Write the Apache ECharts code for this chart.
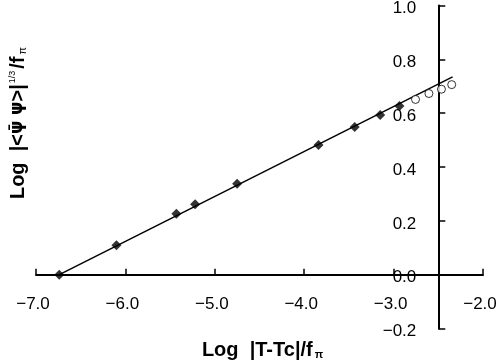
<!DOCTYPE html>
<html>
<head>
<meta charset="utf-8">
<script src="https://cdn.jsdelivr.net/npm/echarts@6/dist/echarts.min.js"></script>
<style>
  html, body { margin: 0; padding: 0; background: #fff; }
  #chart { width: 499px; height: 361px; }
</style>
</head>
<body>
<div id="chart"></div>
<script>
// lattice points used in the fit (filled diamonds)
const fitX = [-6.74, -6.10, -5.43, -5.22, -4.75, -3.84, -3.435, -3.15, -2.935];
const fitY = [0.0, 0.109, 0.226, 0.262, 0.338, 0.482, 0.549, 0.593, 0.627];
// points outside the scaling region (open circles)
const outX = [-2.755, -2.605, -2.465, -2.35];
const outY = [0.651, 0.673, 0.689, 0.706];
// fitted straight line, end points
const lineX = [-6.75, -2.34];
const lineY = [-0.002, 0.735];

const xTicks = { min: -7, max: -2, interval: 1 };
const yTicks = { min: -0.2, max: 1.0, interval: 0.2 };
const yCross = -2.5; // x value where the y axis crosses
const xCross = 0.0;  // y value where the x axis crosses

const font = '"Liberation Sans", Arial, sans-serif';
const titleFont = '"Liberation Sans Narrow", "Liberation Sans", sans-serif';

const zip = (xs, ys) => xs.map((x, i) => [x, ys[i]]);
const fmt = (v) => (v < 0 ? '\u2212' + Math.abs(v).toFixed(1) : v.toFixed(1));

const chart = echarts.init(document.getElementById('chart'));

const W = 499, H = 361;
const grid = { left: 36, right: 16, top: 5.5, bottom: 32.5 };
const plotW = W - grid.left - grid.right;
const plotH = H - grid.top - grid.bottom;
const yOffset = -((yCross - xTicks.min) / (xTicks.max - xTicks.min)) * plotW;
const xOffset = -((xCross - yTicks.min) / (yTicks.max - yTicks.min)) * plotH;

const rich = {
  sup: { fontSize: 9, fontFamily: font, color: '#000', verticalAlign: 'top', padding: [0, 2, 0, 1] },
  sm: { fontSize: 11, fontFamily: font, color: '#000', verticalAlign: 'bottom', padding: [0, 0, 0, 2] },
  psi: { fontSize: 17, fontFamily: '"DejaVu Sans"', fontWeight: 'bold', color: '#000' },
};

chart.setOption({
  animation: false,
  backgroundColor: '#fff',
  grid: Object.assign({ containLabel: false, outerBoundsMode: 'none' }, grid),
  xAxis: {
    type: 'value',
    position: 'bottom',
    offset: xOffset,
    min: xTicks.min,
    max: xTicks.max,
    interval: xTicks.interval,
    axisLine: { onZero: false, lineStyle: { color: '#000', width: 2 } },
    axisTick: { inside: true, length: 6, lineStyle: { color: '#000', width: 1.5 } },
    axisLabel: {
      margin: 21,
      padding: [0, 6, 0, 0],
      color: '#000',
      fontFamily: font,
      fontSize: 17,
      formatter: fmt,
      showMinLabel: true,
      showMaxLabel: true,
    },
    splitLine: { show: false },
    name: 'Log  |T-Tc|/f{sm|π}',
    nameLocation: 'middle',
    nameGap: 66,
    nameTextStyle: {
      color: '#000',
      fontFamily: titleFont,
      fontWeight: 'bold',
      fontSize: 20,
      padding: [0, 0, 0, 6],
      rich: rich,
    },
  },
  yAxis: {
    type: 'value',
    position: 'left',
    offset: yOffset,
    min: yTicks.min,
    max: yTicks.max,
    interval: yTicks.interval,
    axisLine: { show: true, onZero: false, lineStyle: { color: '#000', width: 2 } },
    axisTick: { show: true, inside: true, length: 7, lineStyle: { color: '#000', width: 1.5 } },
    axisLabel: {
      margin: 22,
      color: '#000',
      fontFamily: font,
      fontSize: 17,
      formatter: (v) => '{v|' + fmt(v) + '}',
      rich: {
        v: { fontFamily: font, fontSize: 17, color: '#000', padding: [6, 0, 0, 0] },
      },
    },
    splitLine: { show: false },
  },
  graphic: [
    {
      type: 'text',
      x: 18,
      y: 123,
      rotation: Math.PI / 2,
      style: {
        text: 'Log  |<{psi|ψ\u0304} {psi|ψ}>|{sup|1/3}/f{sm|π}',
        rich: rich,
        fontFamily: titleFont,
        fontWeight: 'bold',
        fontSize: 20,
        fill: '#000',
        align: 'center',
        verticalAlign: 'middle',
      },
    },
  ],
  series: [
    {
      name: 'fit',
      type: 'line',
      data: zip(lineX, lineY),
      showSymbol: false,
      lineStyle: { color: '#000', width: 1.5 },
      z: 1,
    },
    {
      name: 'data',
      type: 'scatter',
      data: zip(fitX, fitY),
      symbol: 'diamond',
      symbolSize: 10,
      itemStyle: { color: '#000' },
      z: 3,
    },
    {
      name: 'outside',
      type: 'scatter',
      data: zip(outX, outY),
      symbol: 'circle',
      symbolSize: 8,
      itemStyle: { color: '#fff', borderColor: '#000', borderWidth: 1 },
      z: 3,
    },
  ],
});
</script>
</body>
</html>
